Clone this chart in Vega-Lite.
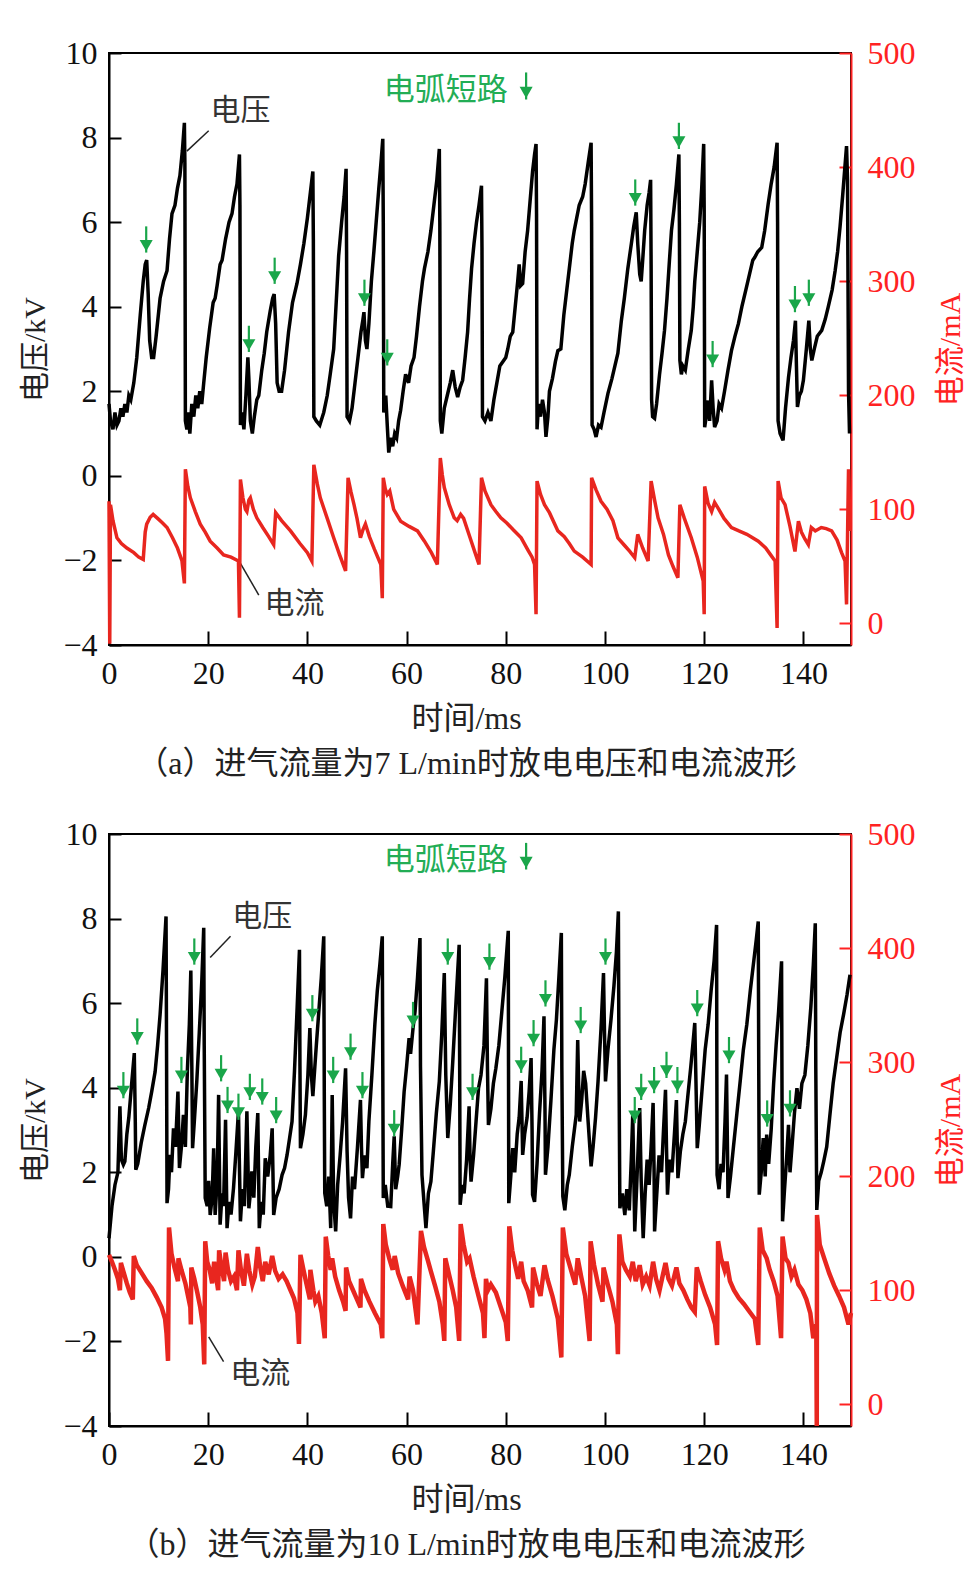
{
"$schema": "https://vega.github.io/schema/vega-lite/v6.json",
"background": "white",
"padding": {"left": 19, "top": 36, "right": 5, "bottom": 5},
"config": {
 "view": {"stroke": "#000", "strokeWidth": 2},
 "axis": {"grid": false, "labelFont": "Liberation Serif", "labelFontSize": 32, "labelColor": "#111", "titleFont": "Liberation Serif, Noto Sans CJK SC", "titleFontWeight": "normal", "titleColor": "#222", "domainWidth": 2, "tickWidth": 2, "labelFlush": false, "labelOverlap": false, "labelBound": false}
},
"datasets": {
 "va": [
{"t":0,"v":1.7},{"t":0.3,"v":1.3},{"t":0.8,"v":1.1},{"t":1.2,"v":1.5},{"t":1.6,"v":1.2},{"t":2.0,"v":1.3},{"t":2.4,"v":1.6},{"t":2.8,"v":1.4},{"t":3.2,"v":1.7},{"t":3.6,"v":1.5},{"t":4.0,"v":1.9},{"t":4.4,"v":1.8},{"t":5.0,"v":2.2},{"t":5.6,"v":2.8},{"t":6.3,"v":3.8},{"t":6.9,"v":4.6},{"t":7.3,"v":5.0},{"t":7.6,"v":5.1},{"t":7.9,"v":4.3},{"t":8.2,"v":3.2},{"t":8.6,"v":2.8},{"t":9.0,"v":2.8},{"t":9.5,"v":3.3},{"t":10.3,"v":4.2},{"t":11.0,"v":4.6},{"t":11.7,"v":4.85},{"t":12.2,"v":5.6},{"t":12.7,"v":6.2},{"t":13.3,"v":6.4},{"t":13.8,"v":6.8},{"t":14.3,"v":7.1},{"t":14.8,"v":7.7},{"t":15.2,"v":8.35},{"t":15.3,"v":7.4},{"t":15.4,"v":1.3},{"t":15.7,"v":1.1},{"t":16.0,"v":1.5},{"t":16.3,"v":1.0},{"t":16.7,"v":1.7},{"t":17.1,"v":1.4},{"t":17.5,"v":1.9},{"t":17.9,"v":1.6},{"t":18.3,"v":2.0},{"t":18.7,"v":1.7},{"t":19.1,"v":2.2},{"t":19.6,"v":2.8},{"t":20.3,"v":3.5},{"t":21.0,"v":4.1},{"t":21.4,"v":4.2},{"t":21.8,"v":4.5},{"t":22.4,"v":5.0},{"t":22.8,"v":5.1},{"t":23.5,"v":5.6},{"t":24.2,"v":6.0},{"t":24.8,"v":6.2},{"t":25.3,"v":6.6},{"t":25.8,"v":6.9},{"t":26.3,"v":7.6},{"t":26.4,"v":6.4},{"t":26.5,"v":1.2},{"t":26.8,"v":1.5},{"t":27.2,"v":1.1},{"t":27.6,"v":1.9},{"t":28.0,"v":2.8},{"t":28.2,"v":2.3},{"t":28.5,"v":1.3},{"t":28.9,"v":1.0},{"t":29.3,"v":1.4},{"t":29.8,"v":1.8},{"t":30.2,"v":1.9},{"t":30.8,"v":2.5},{"t":31.3,"v":2.9},{"t":31.8,"v":3.4},{"t":32.5,"v":3.9},{"t":33.0,"v":4.2},{"t":33.3,"v":4.3},{"t":33.6,"v":3.6},{"t":33.9,"v":2.2},{"t":34.3,"v":2.0},{"t":34.8,"v":2.0},{"t":35.4,"v":2.5},{"t":36.2,"v":3.4},{"t":37.0,"v":4.1},{"t":37.9,"v":4.55},{"t":38.6,"v":5.0},{"t":39.3,"v":5.5},{"t":40.0,"v":6.1},{"t":40.6,"v":6.7},{"t":41.1,"v":7.2},{"t":41.2,"v":5.6},{"t":41.3,"v":1.4},{"t":41.8,"v":1.3},{"t":42.5,"v":1.2},{"t":43.3,"v":1.5},{"t":44.0,"v":1.9},{"t":44.6,"v":2.4},{"t":45.3,"v":3.0},{"t":45.9,"v":4.3},{"t":46.3,"v":5.2},{"t":46.9,"v":6.0},{"t":47.4,"v":6.6},{"t":47.8,"v":7.26},{"t":47.9,"v":5.3},{"t":48.0,"v":1.4},{"t":48.5,"v":1.3},{"t":49.0,"v":1.6},{"t":49.6,"v":2.2},{"t":50.2,"v":2.8},{"t":50.8,"v":3.4},{"t":51.2,"v":3.7},{"t":51.4,"v":3.87},{"t":51.7,"v":3.2},{"t":52.0,"v":3.0},{"t":52.4,"v":3.6},{"t":52.9,"v":4.6},{"t":53.4,"v":5.3},{"t":53.8,"v":5.9},{"t":54.4,"v":6.8},{"t":54.9,"v":7.5},{"t":55.2,"v":7.97},{"t":55.3,"v":6.0},{"t":55.4,"v":1.5},{"t":55.8,"v":1.9},{"t":56.1,"v":1.2},{"t":56.4,"v":0.55},{"t":56.8,"v":0.9},{"t":57.2,"v":0.7},{"t":57.6,"v":1.0},{"t":58.0,"v":0.9},{"t":58.4,"v":1.3},{"t":58.8,"v":1.55},{"t":59.3,"v":2.0},{"t":59.8,"v":2.4},{"t":60.4,"v":2.2},{"t":60.9,"v":2.6},{"t":61.5,"v":2.8},{"t":62.0,"v":3.3},{"t":62.6,"v":4.0},{"t":63.2,"v":4.6},{"t":63.6,"v":4.9},{"t":64.3,"v":5.3},{"t":64.9,"v":5.8},{"t":65.5,"v":6.4},{"t":66.1,"v":7.0},{"t":66.6,"v":7.73},{"t":66.7,"v":6.0},{"t":66.8,"v":1.3},{"t":67.1,"v":1.0},{"t":67.6,"v":1.6},{"t":68.2,"v":1.9},{"t":68.8,"v":2.2},{"t":69.3,"v":2.5},{"t":69.8,"v":2.1},{"t":70.3,"v":1.86},{"t":70.8,"v":2.1},{"t":71.3,"v":2.26},{"t":71.8,"v":2.8},{"t":72.3,"v":3.4},{"t":72.7,"v":4.2},{"t":73.1,"v":4.9},{"t":73.6,"v":5.5},{"t":74.1,"v":6.0},{"t":74.6,"v":6.4},{"t":75.1,"v":6.86},{"t":75.2,"v":5.4},{"t":75.3,"v":1.4},{"t":75.8,"v":1.3},{"t":76.4,"v":1.5},{"t":77.0,"v":1.3},{"t":77.6,"v":1.8},{"t":78.2,"v":2.2},{"t":78.8,"v":2.6},{"t":79.4,"v":2.7},{"t":80.0,"v":2.8},{"t":80.4,"v":3.0},{"t":80.9,"v":3.3},{"t":81.4,"v":3.4},{"t":81.9,"v":4.0},{"t":82.4,"v":4.6},{"t":82.7,"v":5.0},{"t":83.0,"v":4.5},{"t":83.4,"v":4.55},{"t":83.9,"v":5.3},{"t":84.4,"v":5.8},{"t":84.9,"v":6.5},{"t":85.4,"v":7.2},{"t":85.8,"v":7.6},{"t":86.1,"v":7.85},{"t":86.2,"v":6.2},{"t":86.3,"v":1.1},{"t":86.6,"v":1.7},{"t":87.0,"v":1.4},{"t":87.4,"v":1.8},{"t":87.8,"v":1.5},{"t":88.1,"v":0.92},{"t":88.5,"v":1.4},{"t":88.8,"v":2.0},{"t":89.4,"v":2.3},{"t":90.0,"v":2.7},{"t":90.5,"v":2.96},{"t":91.1,"v":3.0},{"t":91.7,"v":3.8},{"t":92.3,"v":4.4},{"t":92.9,"v":5.0},{"t":93.4,"v":5.5},{"t":93.8,"v":5.8},{"t":94.3,"v":6.1},{"t":94.8,"v":6.4},{"t":95.5,"v":6.6},{"t":96.0,"v":6.9},{"t":96.6,"v":7.4},{"t":97.2,"v":7.88},{"t":97.3,"v":6.0},{"t":97.4,"v":1.2},{"t":97.8,"v":1.1},{"t":98.2,"v":0.92},{"t":98.7,"v":1.2},{"t":99.2,"v":1.15},{"t":99.8,"v":1.5},{"t":100.6,"v":1.95},{"t":101.4,"v":2.3},{"t":102.0,"v":2.6},{"t":102.6,"v":2.9},{"t":103.3,"v":3.67},{"t":103.9,"v":4.2},{"t":104.6,"v":4.9},{"t":105.3,"v":5.48},{"t":105.8,"v":5.9},{"t":106.3,"v":6.23},{"t":106.6,"v":5.5},{"t":107.0,"v":4.77},{"t":107.3,"v":4.6},{"t":107.6,"v":5.1},{"t":108.0,"v":5.8},{"t":108.5,"v":6.4},{"t":108.9,"v":6.7},{"t":109.2,"v":7.0},{"t":109.3,"v":5.0},{"t":109.4,"v":1.8},{"t":109.6,"v":1.4},{"t":110.0,"v":1.36},{"t":110.4,"v":1.7},{"t":111.0,"v":2.4},{"t":111.5,"v":2.9},{"t":112.0,"v":3.44},{"t":112.5,"v":4.2},{"t":113.0,"v":5.1},{"t":113.4,"v":5.8},{"t":113.9,"v":6.3},{"t":114.4,"v":6.9},{"t":114.9,"v":7.6},{"t":115.0,"v":6.0},{"t":115.1,"v":2.73},{"t":115.4,"v":2.4},{"t":115.7,"v":2.6},{"t":116.2,"v":2.5},{"t":116.8,"v":3.0},{"t":117.4,"v":3.44},{"t":117.8,"v":4.0},{"t":118.1,"v":4.6},{"t":118.6,"v":5.3},{"t":119.1,"v":6.0},{"t":119.5,"v":6.8},{"t":119.9,"v":7.85},{"t":120.0,"v":6.3},{"t":120.1,"v":1.15},{"t":120.4,"v":1.4},{"t":120.8,"v":1.78},{"t":121.1,"v":1.3},{"t":121.5,"v":2.26},{"t":121.8,"v":1.6},{"t":122.1,"v":1.15},{"t":122.6,"v":1.3},{"t":123.0,"v":1.7},{"t":123.5,"v":1.6},{"t":124.1,"v":2.0},{"t":124.8,"v":2.5},{"t":125.5,"v":2.96},{"t":126.2,"v":3.3},{"t":126.9,"v":3.6},{"t":127.6,"v":4.0},{"t":128.4,"v":4.4},{"t":129.2,"v":4.8},{"t":129.8,"v":5.1},{"t":130.2,"v":5.17},{"t":130.8,"v":5.3},{"t":131.6,"v":5.4},{"t":132.2,"v":5.8},{"t":132.9,"v":6.43},{"t":133.5,"v":6.9},{"t":134.1,"v":7.3},{"t":134.7,"v":7.88},{"t":134.8,"v":6.0},{"t":134.9,"v":1.3},{"t":135.3,"v":1.0},{"t":135.9,"v":0.84},{"t":136.4,"v":1.6},{"t":137.0,"v":2.33},{"t":137.5,"v":2.8},{"t":138.0,"v":3.2},{"t":138.4,"v":3.67},{"t":138.6,"v":2.6},{"t":138.8,"v":1.63},{"t":139.2,"v":1.9},{"t":139.6,"v":2.0},{"t":140.0,"v":2.26},{"t":140.6,"v":3.0},{"t":141.1,"v":3.67},{"t":141.4,"v":3.0},{"t":141.7,"v":2.73},{"t":142.2,"v":3.0},{"t":142.8,"v":3.3},{"t":143.7,"v":3.44},{"t":144.4,"v":3.7},{"t":145.0,"v":3.99},{"t":145.8,"v":4.4},{"t":146.4,"v":4.85},{"t":146.9,"v":5.3},{"t":147.4,"v":5.9},{"t":147.9,"v":6.6},{"t":148.3,"v":7.2},{"t":148.7,"v":7.8},{"t":148.9,"v":7.0},{"t":149.1,"v":2.0},{"t":149.3,"v":1.0}
 ],
 "ia": [
{"t":0,"c":107},{"t":0.15,"c":-18},{"t":0.3,"c":104},{"t":0.8,"c":90},{"t":1.6,"c":75},{"t":2.5,"c":70},{"t":3.6,"c":66},{"t":5.0,"c":62},{"t":6.0,"c":58},{"t":6.9,"c":56},{"t":7.3,"c":80},{"t":7.6,"c":87},{"t":8.3,"c":93},{"t":8.9,"c":95.5},{"t":9.8,"c":92},{"t":10.8,"c":88},{"t":11.7,"c":84},{"t":12.8,"c":75},{"t":13.8,"c":66},{"t":14.7,"c":55},{"t":15.2,"c":35},{"t":15.4,"c":135},{"t":15.9,"c":120},{"t":16.4,"c":110},{"t":17.4,"c":98},{"t":18.4,"c":87},{"t":19.4,"c":80},{"t":20.4,"c":72},{"t":21.8,"c":66},{"t":23.1,"c":60},{"t":24.6,"c":58},{"t":26.1,"c":54.6},{"t":26.3,"c":5},{"t":26.5,"c":126},{"t":27.0,"c":110},{"t":27.5,"c":100},{"t":27.8,"c":98},{"t":28.2,"c":108},{"t":28.5,"c":110},{"t":29.1,"c":100},{"t":29.8,"c":92.5},{"t":31.0,"c":84},{"t":32.2,"c":76},{"t":33.2,"c":69},{"t":33.6,"c":97},{"t":34.8,"c":90},{"t":36.6,"c":81},{"t":38.5,"c":70},{"t":40.0,"c":62},{"t":40.9,"c":54.6},{"t":41.3,"c":139},{"t":42.0,"c":122},{"t":42.6,"c":110},{"t":44.0,"c":92},{"t":45.3,"c":75},{"t":46.5,"c":60},{"t":47.7,"c":46},{"t":48.2,"c":127.6},{"t":48.8,"c":115},{"t":49.4,"c":104},{"t":50.0,"c":92},{"t":50.7,"c":75},{"t":51.2,"c":82},{"t":51.7,"c":87},{"t":52.5,"c":76},{"t":53.5,"c":65},{"t":54.8,"c":51.6},{"t":55.1,"c":22},{"t":55.3,"c":127.6},{"t":55.7,"c":118},{"t":56.1,"c":113},{"t":56.6,"c":116},{"t":57.4,"c":100},{"t":58.8,"c":89.6},{"t":60.5,"c":85},{"t":62.2,"c":81},{"t":63.6,"c":72},{"t":65.0,"c":62},{"t":66.2,"c":51.6},{"t":66.8,"c":145},{"t":67.2,"c":130},{"t":67.6,"c":119},{"t":68.6,"c":104},{"t":69.6,"c":92.5},{"t":70.2,"c":90},{"t":70.9,"c":95.5},{"t":71.5,"c":92},{"t":72.8,"c":75},{"t":73.8,"c":62},{"t":74.6,"c":51.6},{"t":75.1,"c":127.6},{"t":75.8,"c":116},{"t":77.0,"c":104},{"t":78.0,"c":98},{"t":79.0,"c":92.5},{"t":80.2,"c":88},{"t":81.5,"c":82},{"t":83.1,"c":75},{"t":84.5,"c":64},{"t":85.3,"c":58},{"t":85.8,"c":51.6},{"t":86.1,"c":8},{"t":86.3,"c":124.7},{"t":87.0,"c":113},{"t":87.8,"c":104},{"t":88.8,"c":97},{"t":90.5,"c":81},{"t":91.8,"c":76},{"t":92.8,"c":70},{"t":93.8,"c":63.3},{"t":95.5,"c":58},{"t":97.2,"c":51.6},{"t":97.3,"c":127.6},{"t":98.2,"c":117},{"t":99.2,"c":107},{"t":100.4,"c":100},{"t":101.6,"c":90},{"t":102.6,"c":75},{"t":104.0,"c":68},{"t":105.0,"c":63},{"t":106.0,"c":57.5},{"t":106.6,"c":78},{"t":107.6,"c":66},{"t":108.7,"c":54.6},{"t":109.3,"c":124.7},{"t":110.0,"c":108},{"t":110.7,"c":92.5},{"t":111.8,"c":78},{"t":112.8,"c":60},{"t":113.7,"c":50},{"t":114.7,"c":40},{"t":115.1,"c":104},{"t":116.0,"c":92},{"t":117.4,"c":75},{"t":118.6,"c":58},{"t":119.8,"c":37},{"t":120.0,"c":8},{"t":120.1,"c":120},{"t":120.8,"c":105},{"t":121.5,"c":98},{"t":122.1,"c":106},{"t":122.8,"c":101},{"t":124.0,"c":92},{"t":125.5,"c":84},{"t":127.0,"c":81},{"t":128.6,"c":78},{"t":130.9,"c":72},{"t":132.4,"c":66},{"t":133.4,"c":60},{"t":134.3,"c":54.6},{"t":134.7,"c":-4},{"t":134.9,"c":124.7},{"t":135.5,"c":110},{"t":136.3,"c":104},{"t":137.3,"c":85},{"t":138.3,"c":63},{"t":139.0,"c":89.6},{"t":139.6,"c":80},{"t":140.3,"c":74},{"t":141.0,"c":69},{"t":141.6,"c":84},{"t":142.4,"c":81},{"t":143.6,"c":84},{"t":144.6,"c":83},{"t":145.7,"c":81},{"t":146.8,"c":73},{"t":147.7,"c":62},{"t":148.4,"c":54.6},{"t":148.7,"c":16.6},{"t":149.1,"c":135},{"t":149.4,"c":81}
 ],
 "vb": [
{"t":0,"v":0.44},{"t":0.6,"v":1.2},{"t":1.2,"v":1.7},{"t":1.8,"v":2.0},{"t":2.2,"v":3.56},{"t":2.5,"v":2.3},{"t":2.9,"v":2.18},{"t":3.2,"v":2.26},{"t":3.6,"v":2.9},{"t":4.0,"v":3.3},{"t":4.5,"v":4.0},{"t":5.1,"v":4.82},{"t":5.3,"v":3.2},{"t":5.4,"v":2.06},{"t":5.8,"v":2.2},{"t":6.5,"v":2.7},{"t":7.2,"v":3.1},{"t":8.0,"v":3.52},{"t":8.6,"v":3.9},{"t":9.3,"v":4.38},{"t":9.8,"v":5.0},{"t":10.3,"v":5.73},{"t":10.9,"v":6.8},{"t":11.5,"v":8.05},{"t":11.6,"v":5.0},{"t":11.7,"v":1.27},{"t":12.0,"v":1.6},{"t":12.3,"v":2.41},{"t":12.6,"v":2.0},{"t":13.0,"v":3.04},{"t":13.4,"v":2.6},{"t":13.9,"v":3.91},{"t":14.2,"v":2.1},{"t":14.6,"v":2.6},{"t":15.0,"v":3.36},{"t":15.4,"v":2.6},{"t":15.8,"v":4.4},{"t":16.2,"v":5.5},{"t":16.5,"v":6.77},{"t":16.7,"v":4.5},{"t":16.85,"v":2.57},{"t":17.2,"v":3.2},{"t":17.7,"v":4.15},{"t":18.2,"v":5.3},{"t":18.7,"v":6.5},{"t":19.1,"v":7.78},{"t":19.2,"v":5.0},{"t":19.4,"v":1.39},{"t":19.8,"v":1.2},{"t":20.1,"v":1.8},{"t":20.4,"v":0.99},{"t":20.8,"v":1.4},{"t":21.1,"v":2.57},{"t":21.4,"v":0.99},{"t":21.8,"v":1.8},{"t":22.1,"v":3.83},{"t":22.4,"v":0.76},{"t":22.8,"v":1.5},{"t":23.1,"v":1.2},{"t":23.5,"v":3.24},{"t":23.8,"v":0.68},{"t":24.2,"v":1.3},{"t":24.6,"v":1.0},{"t":25.1,"v":1.62},{"t":25.6,"v":2.5},{"t":26.1,"v":3.44},{"t":26.5,"v":0.84},{"t":26.9,"v":1.6},{"t":27.3,"v":1.2},{"t":27.8,"v":3.44},{"t":28.2,"v":1.15},{"t":28.5,"v":1.5},{"t":28.8,"v":2.02},{"t":29.2,"v":1.4},{"t":29.6,"v":2.6},{"t":30.0,"v":3.4},{"t":30.3,"v":0.68},{"t":30.7,"v":1.3},{"t":31.1,"v":1.0},{"t":31.5,"v":2.33},{"t":32.0,"v":1.9},{"t":32.5,"v":2.4},{"t":32.9,"v":3.04},{"t":33.2,"v":0.99},{"t":33.7,"v":1.4},{"t":34.3,"v":1.6},{"t":34.9,"v":1.94},{"t":35.4,"v":2.1},{"t":35.9,"v":2.41},{"t":36.4,"v":2.8},{"t":36.9,"v":3.2},{"t":37.4,"v":4.4},{"t":37.9,"v":5.8},{"t":38.4,"v":7.26},{"t":38.5,"v":4.5},{"t":38.6,"v":2.57},{"t":39.1,"v":2.9},{"t":39.6,"v":3.36},{"t":40.1,"v":4.3},{"t":40.5,"v":5.41},{"t":40.8,"v":4.3},{"t":41.1,"v":3.8},{"t":41.3,"v":4.15},{"t":41.8,"v":5.0},{"t":42.3,"v":5.8},{"t":42.8,"v":6.6},{"t":43.3,"v":7.58},{"t":43.4,"v":4.0},{"t":43.5,"v":1.51},{"t":43.9,"v":1.2},{"t":44.3,"v":1.9},{"t":44.7,"v":0.68},{"t":45.0,"v":3.83},{"t":45.3,"v":1.3},{"t":45.7,"v":0.6},{"t":46.1,"v":1.7},{"t":46.6,"v":2.4},{"t":47.1,"v":3.2},{"t":47.7,"v":4.46},{"t":48.0,"v":2.5},{"t":48.3,"v":1.4},{"t":48.7,"v":0.91},{"t":49.1,"v":1.9},{"t":49.5,"v":1.6},{"t":50.1,"v":2.6},{"t":50.7,"v":3.71},{"t":50.9,"v":2.6},{"t":51.1,"v":1.86},{"t":51.5,"v":2.4},{"t":52.0,"v":2.1},{"t":52.4,"v":3.2},{"t":53.0,"v":4.3},{"t":53.6,"v":5.5},{"t":54.1,"v":6.3},{"t":54.6,"v":6.9},{"t":55.1,"v":7.58},{"t":55.2,"v":4.5},{"t":55.3,"v":1.39},{"t":55.7,"v":1.7},{"t":56.2,"v":1.2},{"t":56.8,"v":1.19},{"t":57.2,"v":2.2},{"t":57.5,"v":2.85},{"t":57.8,"v":1.6},{"t":58.2,"v":1.9},{"t":58.5,"v":2.18},{"t":59.0,"v":3.0},{"t":59.5,"v":3.9},{"t":60.0,"v":4.5},{"t":60.5,"v":5.17},{"t":60.8,"v":4.8},{"t":61.3,"v":5.41},{"t":61.7,"v":5.8},{"t":62.2,"v":6.6},{"t":62.7,"v":7.54},{"t":62.8,"v":4.5},{"t":63.1,"v":1.94},{"t":63.5,"v":1.3},{"t":63.9,"v":0.68},{"t":64.4,"v":1.5},{"t":64.9,"v":1.78},{"t":65.4,"v":2.5},{"t":66.0,"v":3.4},{"t":66.6,"v":4.15},{"t":67.1,"v":5.3},{"t":67.6,"v":6.71},{"t":67.9,"v":4.3},{"t":68.3,"v":2.81},{"t":68.8,"v":3.6},{"t":69.3,"v":4.6},{"t":69.9,"v":5.9},{"t":70.6,"v":7.38},{"t":70.7,"v":4.5},{"t":70.8,"v":1.23},{"t":71.2,"v":1.7},{"t":71.6,"v":1.5},{"t":72.1,"v":2.3},{"t":72.6,"v":3.56},{"t":72.8,"v":2.3},{"t":73.0,"v":1.78},{"t":73.5,"v":2.4},{"t":74.0,"v":3.2},{"t":74.5,"v":3.99},{"t":75.0,"v":4.3},{"t":75.6,"v":5.0},{"t":76.1,"v":6.59},{"t":76.3,"v":4.5},{"t":76.5,"v":3.12},{"t":77.0,"v":3.5},{"t":77.5,"v":4.1},{"t":78.0,"v":4.46},{"t":78.6,"v":5.0},{"t":79.2,"v":5.8},{"t":79.8,"v":6.6},{"t":80.5,"v":7.71},{"t":80.55,"v":4.5},{"t":80.6,"v":1.27},{"t":81.0,"v":1.9},{"t":81.4,"v":2.57},{"t":81.8,"v":2.0},{"t":82.3,"v":2.9},{"t":82.7,"v":3.3},{"t":83.1,"v":4.16},{"t":83.3,"v":3.0},{"t":83.4,"v":2.41},{"t":83.8,"v":2.9},{"t":84.3,"v":3.3},{"t":84.7,"v":3.9},{"t":85.1,"v":4.7},{"t":85.3,"v":3.0},{"t":85.4,"v":1.47},{"t":85.8,"v":1.3},{"t":86.3,"v":2.2},{"t":86.8,"v":3.4},{"t":87.3,"v":4.4},{"t":87.7,"v":5.69},{"t":87.9,"v":3.5},{"t":88.0,"v":1.94},{"t":88.5,"v":2.6},{"t":89.1,"v":3.7},{"t":89.7,"v":4.9},{"t":90.2,"v":5.6},{"t":90.7,"v":6.6},{"t":91.2,"v":7.66},{"t":91.3,"v":4.5},{"t":91.5,"v":1.43},{"t":91.9,"v":1.1},{"t":92.4,"v":1.7},{"t":92.8,"v":1.94},{"t":93.4,"v":2.6},{"t":94.2,"v":3.36},{"t":94.5,"v":5.13},{"t":94.7,"v":4.0},{"t":94.9,"v":3.2},{"t":95.3,"v":3.7},{"t":95.7,"v":4.4},{"t":96.1,"v":4.1},{"t":96.6,"v":3.2},{"t":97.2,"v":2.14},{"t":97.6,"v":2.6},{"t":98.1,"v":3.3},{"t":98.6,"v":4.15},{"t":99.2,"v":5.4},{"t":99.7,"v":6.71},{"t":99.9,"v":5.3},{"t":100.1,"v":4.15},{"t":100.6,"v":4.9},{"t":101.2,"v":5.6},{"t":101.8,"v":6.4},{"t":102.3,"v":7.2},{"t":102.7,"v":8.17},{"t":102.8,"v":5.0},{"t":103.0,"v":1.15},{"t":103.5,"v":1.5},{"t":104.0,"v":0.99},{"t":104.4,"v":1.6},{"t":104.9,"v":1.1},{"t":105.3,"v":2.3},{"t":105.6,"v":3.36},{"t":105.8,"v":2.0},{"t":106.0,"v":0.6},{"t":106.4,"v":1.7},{"t":107.0,"v":3.52},{"t":107.3,"v":1.8},{"t":107.7,"v":0.44},{"t":108.1,"v":1.5},{"t":108.5,"v":2.3},{"t":108.9,"v":1.7},{"t":109.3,"v":2.6},{"t":109.7,"v":3.64},{"t":109.9,"v":2.0},{"t":110.0,"v":0.6},{"t":110.5,"v":1.6},{"t":110.9,"v":2.4},{"t":111.4,"v":2.0},{"t":111.8,"v":3.0},{"t":112.2,"v":3.95},{"t":112.4,"v":2.6},{"t":112.6,"v":1.47},{"t":113.0,"v":2.3},{"t":113.5,"v":2.0},{"t":114.0,"v":2.9},{"t":114.4,"v":3.71},{"t":114.6,"v":2.5},{"t":114.7,"v":1.86},{"t":115.2,"v":2.5},{"t":115.7,"v":2.9},{"t":116.2,"v":3.2},{"t":116.7,"v":3.8},{"t":117.3,"v":4.5},{"t":117.7,"v":5.0},{"t":118.1,"v":5.53},{"t":118.4,"v":3.8},{"t":118.6,"v":2.57},{"t":119.0,"v":3.1},{"t":119.6,"v":4.0},{"t":120.2,"v":4.9},{"t":120.8,"v":5.5},{"t":121.4,"v":6.3},{"t":122.0,"v":7.0},{"t":122.5,"v":7.85},{"t":122.55,"v":4.5},{"t":122.6,"v":1.94},{"t":123.0,"v":1.6},{"t":123.4,"v":2.2},{"t":123.8,"v":2.0},{"t":124.2,"v":3.2},{"t":124.5,"v":4.31},{"t":124.7,"v":2.5},{"t":124.8,"v":1.39},{"t":125.3,"v":1.9},{"t":125.9,"v":2.6},{"t":126.6,"v":3.4},{"t":127.3,"v":4.2},{"t":127.9,"v":4.9},{"t":128.6,"v":5.5},{"t":129.3,"v":6.3},{"t":130.0,"v":7.0},{"t":130.5,"v":7.5},{"t":130.9,"v":7.93},{"t":131.0,"v":4.5},{"t":131.1,"v":1.47},{"t":131.5,"v":2.0},{"t":131.9,"v":2.81},{"t":132.3,"v":1.9},{"t":132.6,"v":2.89},{"t":133.0,"v":2.2},{"t":133.5,"v":3.0},{"t":134.0,"v":4.1},{"t":134.5,"v":5.0},{"t":135.0,"v":5.8},{"t":135.6,"v":6.99},{"t":135.7,"v":3.5},{"t":135.8,"v":0.84},{"t":136.2,"v":1.6},{"t":136.6,"v":2.3},{"t":137.0,"v":3.12},{"t":137.3,"v":2.0},{"t":137.7,"v":2.6},{"t":138.2,"v":3.4},{"t":138.7,"v":3.99},{"t":139.2,"v":3.5},{"t":139.7,"v":4.1},{"t":140.3,"v":4.3},{"t":140.9,"v":5.0},{"t":141.5,"v":5.9},{"t":142.0,"v":6.9},{"t":142.4,"v":7.89},{"t":142.5,"v":4.5},{"t":142.7,"v":1.11},{"t":143.1,"v":1.8},{"t":143.6,"v":2.0},{"t":144.1,"v":2.26},{"t":144.7,"v":2.6},{"t":145.3,"v":3.3},{"t":146.0,"v":4.1},{"t":146.7,"v":4.7},{"t":147.4,"v":5.3},{"t":148.1,"v":5.73},{"t":148.8,"v":6.2},{"t":149.4,"v":6.67}
 ],
 "ib": [
{"t":0,"c":131},{"t":0.6,"c":125},{"t":1.2,"c":118},{"t":1.8,"c":110},{"t":2.2,"c":100},{"t":2.4,"c":124},{"t":3.0,"c":115},{"t":3.6,"c":106},{"t":4.2,"c":98},{"t":4.8,"c":92},{"t":5.0,"c":130},{"t":5.6,"c":122},{"t":6.6,"c":115},{"t":7.6,"c":108},{"t":8.6,"c":102},{"t":9.6,"c":94},{"t":10.6,"c":85},{"t":11.3,"c":75},{"t":11.6,"c":62},{"t":11.9,"c":38},{"t":12.1,"c":155},{"t":12.6,"c":132},{"t":13.2,"c":120},{"t":13.9,"c":108},{"t":14.0,"c":128},{"t":14.6,"c":118},{"t":15.4,"c":106},{"t":16.4,"c":85},{"t":16.5,"c":70},{"t":16.6,"c":120},{"t":17.2,"c":110},{"t":17.8,"c":98},{"t":18.4,"c":85},{"t":18.9,"c":70},{"t":19.2,"c":35},{"t":19.4,"c":143},{"t":19.8,"c":125},{"t":20.3,"c":118},{"t":20.8,"c":106},{"t":21.2,"c":125},{"t":21.6,"c":112},{"t":22.0,"c":100},{"t":22.2,"c":135},{"t":22.7,"c":120},{"t":23.2,"c":108},{"t":23.5,"c":133},{"t":24.0,"c":118},{"t":24.6,"c":108},{"t":25.2,"c":112},{"t":25.8,"c":100},{"t":26.1,"c":135},{"t":26.6,"c":118},{"t":27.2,"c":104},{"t":27.8,"c":132},{"t":28.3,"c":117},{"t":28.9,"c":105},{"t":29.4,"c":112},{"t":30.0,"c":138},{"t":30.5,"c":120},{"t":31.0,"c":108},{"t":31.5,"c":125},{"t":32.2,"c":114},{"t":32.9,"c":130},{"t":33.5,"c":117},{"t":34.2,"c":110},{"t":35.0,"c":114},{"t":35.8,"c":108},{"t":36.6,"c":100},{"t":37.3,"c":93},{"t":38.0,"c":80},{"t":38.3,"c":53},{"t":38.6,"c":131},{"t":39.2,"c":118},{"t":39.8,"c":106},{"t":40.5,"c":92},{"t":40.6,"c":118},{"t":41.2,"c":100},{"t":41.6,"c":90},{"t":42.2,"c":95},{"t":42.9,"c":80},{"t":43.5,"c":58},{"t":43.7,"c":147},{"t":44.2,"c":130},{"t":44.7,"c":118},{"t":45.0,"c":128},{"t":45.6,"c":112},{"t":46.4,"c":100},{"t":47.2,"c":90},{"t":47.7,"c":82},{"t":47.8,"c":120},{"t":48.4,"c":108},{"t":49.2,"c":100},{"t":50.0,"c":92},{"t":50.7,"c":85},{"t":50.8,"c":110},{"t":51.5,"c":100},{"t":52.5,"c":90},{"t":53.6,"c":80},{"t":54.8,"c":70},{"t":55.1,"c":58},{"t":55.3,"c":158},{"t":55.8,"c":140},{"t":56.5,"c":128},{"t":57.2,"c":118},{"t":57.6,"c":130},{"t":58.3,"c":115},{"t":59.2,"c":104},{"t":60.3,"c":92},{"t":60.6,"c":112},{"t":61.3,"c":100},{"t":62.2,"c":70},{"t":62.9,"c":152},{"t":63.5,"c":138},{"t":64.3,"c":126},{"t":65.0,"c":115},{"t":65.8,"c":103},{"t":66.6,"c":90},{"t":67.3,"c":70},{"t":67.6,"c":55.6},{"t":67.8,"c":128},{"t":68.5,"c":115},{"t":69.3,"c":100},{"t":70.0,"c":85},{"t":70.6,"c":55.6},{"t":70.9,"c":158},{"t":71.5,"c":140},{"t":72.2,"c":125},{"t":72.7,"c":128},{"t":73.5,"c":112},{"t":74.5,"c":95},{"t":75.4,"c":80},{"t":75.7,"c":58},{"t":76.0,"c":110},{"t":76.4,"c":100},{"t":77.0,"c":105},{"t":78.0,"c":98},{"t":79.0,"c":85},{"t":80.0,"c":72},{"t":80.4,"c":55.6},{"t":80.7,"c":156},{"t":81.3,"c":135},{"t":82.0,"c":120},{"t":82.5,"c":110},{"t":83.1,"c":125},{"t":83.6,"c":108},{"t":84.4,"c":100},{"t":85.3,"c":85},{"t":85.5,"c":120},{"t":86.3,"c":105},{"t":87.0,"c":95},{"t":87.8,"c":122},{"t":88.4,"c":110},{"t":89.4,"c":95},{"t":90.5,"c":75},{"t":91.2,"c":41},{"t":91.5,"c":155},{"t":92.2,"c":132},{"t":93.0,"c":120},{"t":94.0,"c":105},{"t":94.5,"c":128},{"t":95.2,"c":112},{"t":96.0,"c":95},{"t":96.9,"c":55.6},{"t":97.1,"c":143},{"t":97.8,"c":122},{"t":98.6,"c":105},{"t":99.5,"c":90},{"t":99.7,"c":120},{"t":100.5,"c":106},{"t":101.5,"c":90},{"t":102.4,"c":70},{"t":102.6,"c":44},{"t":102.9,"c":149},{"t":103.5,"c":125},{"t":104.2,"c":118},{"t":105.0,"c":112},{"t":105.6,"c":125},{"t":106.2,"c":108},{"t":107.0,"c":122},{"t":107.6,"c":105},{"t":108.3,"c":112},{"t":109.0,"c":104},{"t":109.7,"c":125},{"t":110.3,"c":110},{"t":111.0,"c":100},{"t":111.6,"c":112},{"t":112.2,"c":124},{"t":112.8,"c":110},{"t":113.5,"c":104},{"t":114.4,"c":120},{"t":115.0,"c":106},{"t":115.8,"c":100},{"t":116.6,"c":92},{"t":117.4,"c":85},{"t":118.1,"c":81},{"t":118.5,"c":120},{"t":119.3,"c":108},{"t":120.2,"c":96},{"t":121.2,"c":85},{"t":122.2,"c":70},{"t":122.6,"c":52},{"t":122.8,"c":143},{"t":123.4,"c":128},{"t":124.1,"c":118},{"t":124.5,"c":125},{"t":125.2,"c":108},{"t":126.0,"c":100},{"t":127.0,"c":93},{"t":128.0,"c":88},{"t":129.0,"c":82},{"t":130.2,"c":75},{"t":130.9,"c":52},{"t":131.2,"c":155},{"t":131.8,"c":135},{"t":132.6,"c":128},{"t":133.2,"c":118},{"t":134.0,"c":108},{"t":134.8,"c":95},{"t":135.5,"c":58},{"t":135.8,"c":147},{"t":136.4,"c":128},{"t":137.0,"c":124},{"t":137.6,"c":112},{"t":138.2,"c":118},{"t":139.0,"c":105},{"t":139.8,"c":100},{"t":140.6,"c":92},{"t":141.4,"c":80},{"t":142.0,"c":58},{"t":142.6,"c":70},{"t":142.7,"c":-19},{"t":142.75,"c":166},{"t":143.3,"c":140},{"t":144.2,"c":128},{"t":145.2,"c":115},{"t":146.2,"c":104},{"t":147.2,"c":95},{"t":148.2,"c":85},{"t":149.1,"c":70},{"t":149.6,"c":80}
 ],
 "arrA": [
{"t":7.5,"tip":5.28,"top":5.9},{"t":28.2,"tip":2.93,"top":3.55},{"t":33.4,"tip":4.54,"top":5.16},{"t":51.5,"tip":4.02,"top":4.64},{"t":56.1,"tip":2.61,"top":3.23},{"t":106.1,"tip":6.39,"top":7.01},{"t":114.9,"tip":7.73,"top":8.35},{"t":121.7,"tip":2.57,"top":3.19},{"t":138.3,"tip":3.87,"top":4.49},{"t":141.1,"tip":4.02,"top":4.64},{"t":84.1,"tip":8.9,"top":9.54}
 ],
 "arrB": [
{"t":2.9,"tip":3.75,"top":4.37},{"t":5.7,"tip":5.02,"top":5.64},{"t":14.6,"tip":4.11,"top":4.73},{"t":17.2,"tip":6.91,"top":7.53},{"t":22.6,"tip":4.15,"top":4.77},{"t":23.9,"tip":3.4,"top":4.02},{"t":26.1,"tip":3.24,"top":3.86},{"t":28.4,"tip":3.71,"top":4.33},{"t":30.9,"tip":3.6,"top":4.22},{"t":33.7,"tip":3.16,"top":3.78},{"t":41.0,"tip":5.57,"top":6.19},{"t":45.2,"tip":4.11,"top":4.73},{"t":48.7,"tip":4.66,"top":5.28},{"t":51.1,"tip":3.75,"top":4.37},{"t":57.5,"tip":2.85,"top":3.47},{"t":61.3,"tip":5.41,"top":6.03},{"t":68.3,"tip":6.91,"top":7.53},{"t":73.3,"tip":3.71,"top":4.33},{"t":76.7,"tip":6.79,"top":7.41},{"t":83.1,"tip":4.35,"top":4.97},{"t":85.6,"tip":4.98,"top":5.6},{"t":88.0,"tip":5.92,"top":6.54},{"t":95.1,"tip":5.29,"top":5.91},{"t":100.1,"tip":6.91,"top":7.53},{"t":106.0,"tip":3.16,"top":3.78},{"t":107.3,"tip":3.71,"top":4.33},{"t":109.9,"tip":3.87,"top":4.49},{"t":112.4,"tip":4.23,"top":4.85},{"t":114.6,"tip":3.87,"top":4.49},{"t":118.6,"tip":5.69,"top":6.31},{"t":125.0,"tip":4.58,"top":5.2},{"t":132.7,"tip":3.08,"top":3.7},{"t":137.3,"tip":3.32,"top":3.94},{"t":84.1,"tip":9.16,"top":9.79}
 ],
 "txtA": [{"t":26.5,"v":8.64,"s":"电压"},{"t":37.4,"v":-3.03,"s":"电流"}],
 "txtB": [{"t":30.9,"v":8.03,"s":"电压"},{"t":30.5,"v":-2.77,"s":"电流"}],
 "legA": [{"t":67.9,"v":9.1,"s":"电弧短路"}],
 "legB": [{"t":67.9,"v":9.35,"s":"电弧短路"}],
 "ldA": [{"t":20.1,"v":8.16,"t2":15.7,"v2":7.68},{"t":26.5,"v":-2.07,"t2":30.2,"v2":-2.82}],
 "ldB": [{"t":24.5,"v":7.58,"t2":20.4,"v2":7.08},{"t":20.1,"v":-1.89,"t2":23.1,"v2":-2.48}]
},
"bounds": "flush",
"spacing": 189,
"vconcat": [
 {
  "width": 742, "height": 592,
  "resolve": {"scale": {"y": "independent"}},
  "layer": [
   {"layer": [
    {"data": {"name": "va"}, "mark": {"type": "line", "color": "#000", "strokeWidth": 3.5},
     "encoding": {
      "x": {"field": "t", "type": "quantitative", "scale": {"domain": [0, 149.6], "nice": false, "zero": false},
        "axis": {"values": [0,20,40,60,80,100,120,140], "domainColor": "#000", "tickColor": "#000", "tickSize": -14, "labelPadding": 27, "title": ["时间/ms", "（a）进气流量为7 L/min时放电电压和电流波形"], "titleFontSize": 32, "titleLineHeight": 45, "titlePadding": 14, "titleX": 357}},
      "y": {"field": "v", "type": "quantitative", "scale": {"domain": [-4, 10], "nice": false, "zero": false},
        "axis": {"values": [-4,-2,0,2,4,6,8,10], "domainColor": "#000", "tickColor": "#000", "tickSize": -12, "labelPadding": 24, "title": "电压/kV", "titleFontSize": 30, "titlePadding": 12}}
     }},
    {"data": {"name": "arrA"}, "mark": {"type": "rule", "color": "#1aa64a", "strokeWidth": 2.2},
     "encoding": {"x": {"field": "t", "type": "quantitative"}, "y": {"field": "top", "type": "quantitative"}, "y2": {"field": "tip"}}},
    {"data": {"name": "arrA"}, "mark": {"type": "point", "shape": "triangle-down", "filled": true, "color": "#1aa64a", "opacity": 1, "size": 170, "yOffset": -7},
     "encoding": {"x": {"field": "t", "type": "quantitative"}, "y": {"field": "tip", "type": "quantitative"}}},
    {"data": {"name": "ldA"}, "mark": {"type": "rule", "color": "#222", "strokeWidth": 1.5},
     "encoding": {"x": {"field": "t", "type": "quantitative"}, "x2": {"field": "t2"}, "y": {"field": "v", "type": "quantitative"}, "y2": {"field": "v2"}}},
    {"data": {"name": "txtA"}, "mark": {"type": "text", "font": "Liberation Serif, Noto Sans CJK SC", "fontSize": 30, "color": "#333"},
     "encoding": {"x": {"field": "t", "type": "quantitative"}, "y": {"field": "v", "type": "quantitative"}, "text": {"field": "s"}}},
    {"data": {"name": "legA"}, "mark": {"type": "text", "font": "Liberation Serif, Noto Sans CJK SC", "fontSize": 31, "color": "#22ad55"},
     "encoding": {"x": {"field": "t", "type": "quantitative"}, "y": {"field": "v", "type": "quantitative"}, "text": {"field": "s"}}}
   ]},
   {"data": {"name": "ia"}, "mark": {"type": "line", "color": "#e8261f", "strokeWidth": 3.5},
    "encoding": {
     "x": {"field": "t", "type": "quantitative"},
     "y": {"field": "c", "type": "quantitative", "scale": {"domain": [-19, 500], "nice": false, "zero": false},
       "axis": {"orient": "right", "values": [0,100,200,300,400,500], "domainColor": "#ff2222", "tickColor": "#ff2222", "labelColor": "#ff2222", "tickSize": -12, "labelPadding": 28, "title": "电流/mA", "titleColor": "#ff2222", "titleFontSize": 30, "titleAngle": 270, "titleBaseline": "top", "titlePadding": 20}}
    }}
  ]
 },
 {
  "width": 742, "height": 592,
  "resolve": {"scale": {"y": "independent"}},
  "layer": [
   {"layer": [
    {"data": {"name": "vb"}, "mark": {"type": "line", "color": "#000", "strokeWidth": 3.5},
     "encoding": {
      "x": {"field": "t", "type": "quantitative", "scale": {"domain": [0, 149.6], "nice": false, "zero": false},
        "axis": {"values": [0,20,40,60,80,100,120,140], "domainColor": "#000", "tickColor": "#000", "tickSize": -14, "labelPadding": 27, "title": ["时间/ms", "（b）进气流量为10 L/min时放电电压和电流波形"], "titleFontSize": 32, "titleLineHeight": 45, "titlePadding": 14, "titleX": 357}},
      "y": {"field": "v", "type": "quantitative", "scale": {"domain": [-4, 10], "nice": false, "zero": false},
        "axis": {"values": [-4,-2,0,2,4,6,8,10], "domainColor": "#000", "tickColor": "#000", "tickSize": -12, "labelPadding": 24, "title": "电压/kV", "titleFontSize": 30, "titlePadding": 12}}
     }},
    {"data": {"name": "arrB"}, "mark": {"type": "rule", "color": "#1aa64a", "strokeWidth": 2.2},
     "encoding": {"x": {"field": "t", "type": "quantitative"}, "y": {"field": "top", "type": "quantitative"}, "y2": {"field": "tip"}}},
    {"data": {"name": "arrB"}, "mark": {"type": "point", "shape": "triangle-down", "filled": true, "color": "#1aa64a", "opacity": 1, "size": 170, "yOffset": -7},
     "encoding": {"x": {"field": "t", "type": "quantitative"}, "y": {"field": "tip", "type": "quantitative"}}},
    {"data": {"name": "ldB"}, "mark": {"type": "rule", "color": "#222", "strokeWidth": 1.5},
     "encoding": {"x": {"field": "t", "type": "quantitative"}, "x2": {"field": "t2"}, "y": {"field": "v", "type": "quantitative"}, "y2": {"field": "v2"}}},
    {"data": {"name": "txtB"}, "mark": {"type": "text", "font": "Liberation Serif, Noto Sans CJK SC", "fontSize": 30, "color": "#333"},
     "encoding": {"x": {"field": "t", "type": "quantitative"}, "y": {"field": "v", "type": "quantitative"}, "text": {"field": "s"}}},
    {"data": {"name": "legB"}, "mark": {"type": "text", "font": "Liberation Serif, Noto Sans CJK SC", "fontSize": 31, "color": "#22ad55"},
     "encoding": {"x": {"field": "t", "type": "quantitative"}, "y": {"field": "v", "type": "quantitative"}, "text": {"field": "s"}}}
   ]},
   {"data": {"name": "ib"}, "mark": {"type": "line", "color": "#e8261f", "strokeWidth": 4.5},
    "encoding": {
     "x": {"field": "t", "type": "quantitative"},
     "y": {"field": "c", "type": "quantitative", "scale": {"domain": [-19, 500], "nice": false, "zero": false},
       "axis": {"orient": "right", "values": [0,100,200,300,400,500], "domainColor": "#ff2222", "tickColor": "#ff2222", "labelColor": "#ff2222", "tickSize": -12, "labelPadding": 28, "title": "电流/mA", "titleColor": "#ff2222", "titleFontSize": 30, "titleAngle": 270, "titleBaseline": "top", "titlePadding": 20}}
    }}
  ]
 }
]
}
